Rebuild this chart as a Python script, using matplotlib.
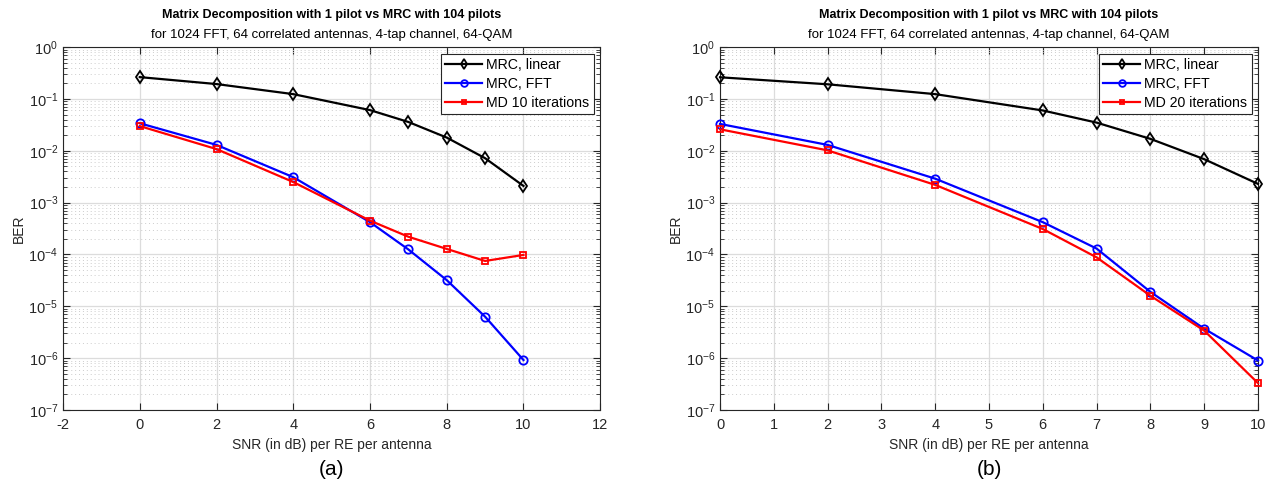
import numpy as np
import matplotlib.pyplot as plt
from matplotlib.ticker import LogLocator, NullFormatter

plt.rcParams['font.family'] = ['Liberation Sans', 'DejaVu Sans']
plt.rcParams['axes.unicode_minus'] = False

snr = [0, 2, 4, 6, 7, 8, 9, 10]

# panel (a): MD with 10 iterations
ber_lin_a = [0.264, 0.194, 0.124, 0.061, 0.036, 0.018, 0.0072, 0.0021]
ber_fft_a = [0.034, 0.013, 0.0031, 0.00042, 1.25e-4, 3.2e-5, 6.3e-6, 9.2e-7]
ber_md_a = [0.030, 0.0108, 0.0025, 0.00045, 2.2e-4, 1.28e-4, 7.5e-5, 9.8e-5]

# panel (b): MD with 20 iterations
ber_lin_b = [0.262, 0.192, 0.124, 0.060, 0.035, 0.017, 0.0069, 0.0023]
ber_fft_b = [0.033, 0.013, 0.0029, 0.00042, 1.3e-4, 1.9e-5, 3.7e-6, 9.0e-7]
ber_md_b = [0.026, 0.0102, 0.0022, 0.00031, 8.8e-5, 1.6e-5, 3.4e-6, 3.3e-7]

md_labels = ["MD 10 iterations", "MD 20 iterations"]
captions = ["(a)", "(b)"]

fig = plt.figure(figsize=(12.73, 4.91), dpi=100)
ax_a = fig.add_axes([0.0495, 0.165, 0.422, 0.739])
ax_b = fig.add_axes([0.5656, 0.165, 0.4226, 0.739])

panels = [
    (ax_a, ber_lin_a, ber_fft_a, ber_md_a, (-2, 12), np.arange(-2, 13, 2)),
    (ax_b, ber_lin_b, ber_fft_b, ber_md_b, (0, 10), np.arange(0, 11, 1)),
]

for i, (ax, lin, fft, md, xl, xt) in enumerate(panels):
    ax.plot(snr, lin, '-d', color='black', lw=1.6, ms=6, mfc='none', mew=1.3,
            label="MRC, linear", clip_on=False, zorder=3)
    ax.plot(snr, fft, '-o', color='blue', lw=1.6, ms=6, mfc='none', mew=1.3,
            label="MRC, FFT", clip_on=False, zorder=3)
    ax.plot(snr, md, '-s', color='red', lw=1.6, ms=4, mfc='none', mew=1.3,
            label=md_labels[i], clip_on=False, zorder=3)
    ax.set_yscale('log')
    ax.set_ylim(1e-7, 1)
    ax.set_xlim(*xl)
    ax.set_xticks(xt)
    ax.yaxis.set_major_locator(LogLocator(base=10, numticks=10))
    ax.yaxis.set_minor_locator(LogLocator(base=10, subs=np.arange(2, 10), numticks=10))
    ax.yaxis.set_minor_formatter(NullFormatter())
    ax.grid(True, which='major', color='#dcdcdc', lw=0.9, ls='-')
    ax.grid(True, which='minor', axis='y', color='#cccccc', lw=0.7, ls=(0, (1, 3)))
    ax.set_axisbelow(True)
    ax.tick_params(which='both', direction='in', top=True, right=True,
                   labelsize=10.5, colors='#262626')
    ax.tick_params(which='major', length=5)
    ax.tick_params(which='minor', length=3)
    ax.tick_params(axis='x', pad=6)
    for s in ax.spines.values():
        s.set_color('#262626')
        s.set_linewidth(0.8)
    ax.set_xlabel("SNR (in dB) per RE per antenna", fontsize=10, color='#262626', labelpad=4)
    ax.set_ylabel("BER", fontsize=10, color='#262626', labelpad=2)
    ax.set_title("Matrix Decomposition with 1 pilot vs MRC with 104 pilots",
                 fontsize=9, fontweight='bold', pad=21)
    ax.text(0.5, 1.017, "for 1024 FFT, 64 correlated antennas, 4-tap channel, 64-QAM",
            transform=ax.transAxes, ha='center', va='bottom', fontsize=9.5)
    leg = ax.legend(loc='upper right', fontsize=10.2, fancybox=False, framealpha=1,
                    edgecolor='#262626', borderaxespad=0.45, handlelength=2.6,
                    borderpad=0.3, labelspacing=0.35, handletextpad=0.3, markerscale=0.8)
    leg.get_frame().set_linewidth(0.8)
    ax.text(0.5, -0.165, captions[i], transform=ax.transAxes, ha='center', va='center',
            fontsize=15)

fig.savefig("out.png", dpi=100)
